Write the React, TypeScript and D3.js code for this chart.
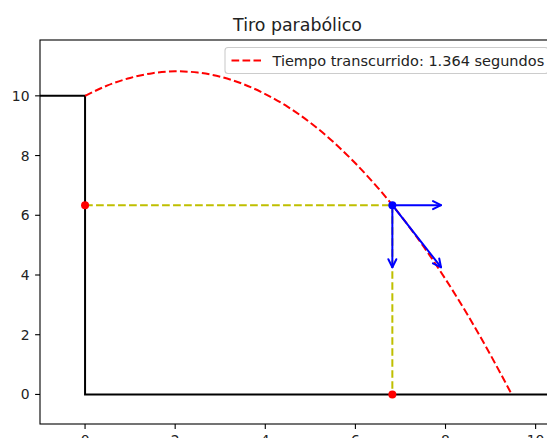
import React from 'react';
import {scaleLinear,line,curveNatural} from 'd3';

// values
const trajX=[0,0.5,1,1.5,2,2.5,3,3.5,4,4.5,5,5.5,6,6.5,7,7.5,8,8.5,9,9.47];
const trajY=[10,10.35,10.6,10.76,10.82,10.78,10.64,10.4,10.06,9.63,9.1,8.47,7.74,6.92,6,4.98,3.86,2.64,1.32,0];
const groundX=[-1,0,0,10.6];
const groundY=[10,10,0,0];
const ball={x:6.82,y:6.34};
const vel={x:1.08,y:-2.08};
const elapsed="1.364";
const xTicks=[0,2,4,6,8,10];
const yTicks=[0,2,4,6,8,10];

const W=547,H=438;
const left=40,right=555,top=40,bottom=424;
const font="DejaVu Sans, sans-serif";

const Arrow=({x1,y1,x2,y2}:{x1:number,y1:number,x2:number,y2:number})=>{
  const a=Math.atan2(y2-y1,x2-x1);
  const hl=8,hw=4;
  const bx=x2-hl*Math.cos(a),by=y2-hl*Math.sin(a);
  const px=-Math.sin(a)*hw,py=Math.cos(a)*hw;
  return (
    <g stroke="#0000ff" strokeWidth={2} fill="none" strokeLinecap="round" strokeLinejoin="round">
      <line x1={x1} y1={y1} x2={x2} y2={y2}/>
      <path d={`M${bx+px},${by+py}L${x2},${y2}L${bx-px},${by-py}`}/>
    </g>
  );
};

export default function App(){
  const x=scaleLinear().domain([-1,10.43]).range([left,right]);
  const y=scaleLinear().domain([-0.99,11.87]).range([bottom,top]);

  const traj=line<number>().x((d,i)=>x(trajX[i])).y(d=>y(d)).curve(curveNatural)(trajY) as string;
  const ground=line<number>().x((d,i)=>x(groundX[i])).y(d=>y(d))(groundY) as string;

  const bx=x(ball.x),by=y(ball.y);
  const dash="7.7 3.3";

  return (
    <svg width={W} height={H} style={{position:"absolute",left:0,top:0,background:"#fff"}} fontFamily={font}>
      <defs>
        <clipPath id="plotArea"><rect x={left} y={top} width={right-left} height={bottom-top}/></clipPath>
      </defs>
      <rect x={0} y={0} width={W} height={H} fill="#fff"/>

      <g clipPath="url(#plotArea)">
        <path d={ground} fill="none" stroke="#000" strokeWidth={2}/>
        <path d={traj} fill="none" stroke="#ff0000" strokeWidth={2} strokeDasharray={dash}/>
        <line x1={x(0)} y1={by} x2={bx} y2={by} stroke="#bfbf00" strokeWidth={2} strokeDasharray={dash}/>
        <line x1={bx} y1={by} x2={bx} y2={y(0)} stroke="#bfbf00" strokeWidth={2} strokeDasharray={dash}/>
        <circle cx={x(0)} cy={by} r={4} fill="#ff0000"/>
        <circle cx={bx} cy={y(0)} r={4} fill="#ff0000"/>
        <Arrow x1={bx} y1={by} x2={x(ball.x+vel.x)} y2={by}/>
        <Arrow x1={bx} y1={by} x2={bx} y2={y(ball.y+vel.y)}/>
        <Arrow x1={bx} y1={by} x2={x(ball.x+vel.x)} y2={y(ball.y+vel.y)}/>
        <circle cx={bx} cy={by} r={4} fill="#0000ff"/>
      </g>

      <rect x={left} y={top} width={right-left} height={bottom-top} fill="none" stroke="#000" strokeWidth={1.1}/>

      {xTicks.map(t=>(
        <g key={"x"+t} transform={`translate(${x(t)},${bottom})`}>
          <line y2={4.9} stroke="#000" strokeWidth={1.1}/>
          <text y={20.5} textAnchor="middle" fontSize={13.9} fill="#222">{t}</text>
        </g>
      ))}
      {yTicks.map(t=>(
        <g key={"y"+t} transform={`translate(${left},${y(t)})`}>
          <line x2={-4.9} stroke="#000" strokeWidth={1.1}/>
          <text x={-10.5} dy="0.36em" textAnchor="end" fontSize={13.9} fill="#222">{t}</text>
        </g>
      ))}

      <text x={(left+right)/2} y={31} textAnchor="middle" fontSize={17.4} fill="#222">Tiro parabólico</text>

      <g>
        <rect x={225} y={47.5} width={323} height={26} rx={3} fill="#fff" fillOpacity={0.8} stroke="#cccccc" strokeWidth={1.1}/>
        <line x1={231.5} y1={60.5} x2={261} y2={60.5} stroke="#ff0000" strokeWidth={2} strokeDasharray={dash}/>
        <text x={272.5} y={65.5} fontSize={14.5} fill="#222">{`Tiempo transcurrido: ${elapsed} segundos`}</text>
      </g>
    </svg>
  );
}
